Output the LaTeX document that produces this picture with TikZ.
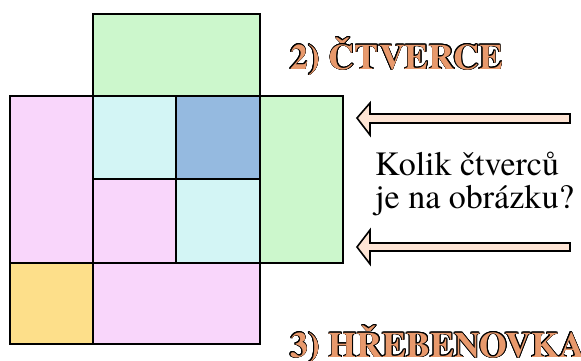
\documentclass[tikz,border=0pt]{standalone}
\usepackage{fontspec}
\newfontfamily\tnr{texgyretermes}[Extension=.otf, UprightFont=*-regular, BoldFont=*-bold]
\newfontfamily\tnrb{texgyretermes}[Extension=.otf, UprightFont=*-bold]
\setmainfont{texgyretermes}[Extension=.otf, UprightFont=*-regular, BoldFont=*-bold]
\usepackage{contour}
\contourlength{0.7pt}
\definecolor{cgreen}{HTML}{CCF7CC}
\definecolor{cpink}{HTML}{F9D6FB}
\definecolor{ccyan}{HTML}{D3F5F5}
\definecolor{cblue}{HTML}{95BAE0}
\definecolor{cyellow}{HTML}{FDDF8A}
\definecolor{carrow}{HTML}{FDE4D4}
\definecolor{ctitle}{HTML}{E8996C}
\tikzset{
  cell/.style={draw=black, line width=2pt, line join=miter},
  blockarrow/.style={draw=black, fill=carrow, line width=1.6pt, line join=miter},
  title/.style={anchor=base west, inner sep=0pt, font=\tnrb\fontsize{35.8}{36}\selectfont},
  question/.style={anchor=base west, inner sep=0pt, font=\tnr\fontsize{34}{34}\selectfont},
}
\newcommand{\outl}[1]{\contour{black}{\textcolor{ctitle}{#1}}}
\begin{document}
\begin{tikzpicture}[x=1pt, y=-1pt]
\useasboundingbox (0,0) rectangle (581,360);
\begin{scope}
\clip (0,0) rectangle (581,360);
% fills
\fill[cgreen] (93,14) rectangle (260,96);
\fill[cpink] (10,96) rectangle (93,263);
\fill[ccyan] (93,96) rectangle (176,179);
\fill[cblue] (176,96) rectangle (260,179);
\fill[cpink] (93,179) rectangle (176,263);
\fill[ccyan] (176,179) rectangle (260,263);
\fill[cgreen] (260,96) rectangle (343,263);
\fill[cyellow] (10,263) rectangle (93,344);
\fill[cpink] (93,263) rectangle (260,344);
% borders
\draw[cell] (93,14) rectangle (260,96);
\draw[cell] (10,96) rectangle (93,263);
\draw[cell] (93,96) rectangle (176,179);
\draw[cell] (176,96) rectangle (260,179);
\draw[cell] (93,179) rectangle (176,263);
\draw[cell] (176,179) rectangle (260,263);
\draw[cell] (260,96) rectangle (343,263);
\draw[cell] (10,263) rectangle (93,344);
\draw[cell] (93,263) rectangle (260,344);
% arrows
\draw[blockarrow] (357,118) -- (370,103) -- (370,114) -- (570,114) -- (570,123) -- (370,123) -- (370,135) -- cycle;
\draw[blockarrow] (357,247) -- (370,230) -- (370,243) -- (570,243) -- (570,251) -- (370,251) -- (370,264) -- cycle;
% texts
\node[title] (t2) at (290,69) {\outl{2) ČTVERCE}};
\node[title] (t3) at (290,357) {\outl{3) HŘEBENOVKA}};
\node[question] (q1) at (375,175) {Kolik čtverců};
\node[question] (q2) at (375,208) {je na obrázku?};
\end{scope}
\end{tikzpicture}
\end{document}
